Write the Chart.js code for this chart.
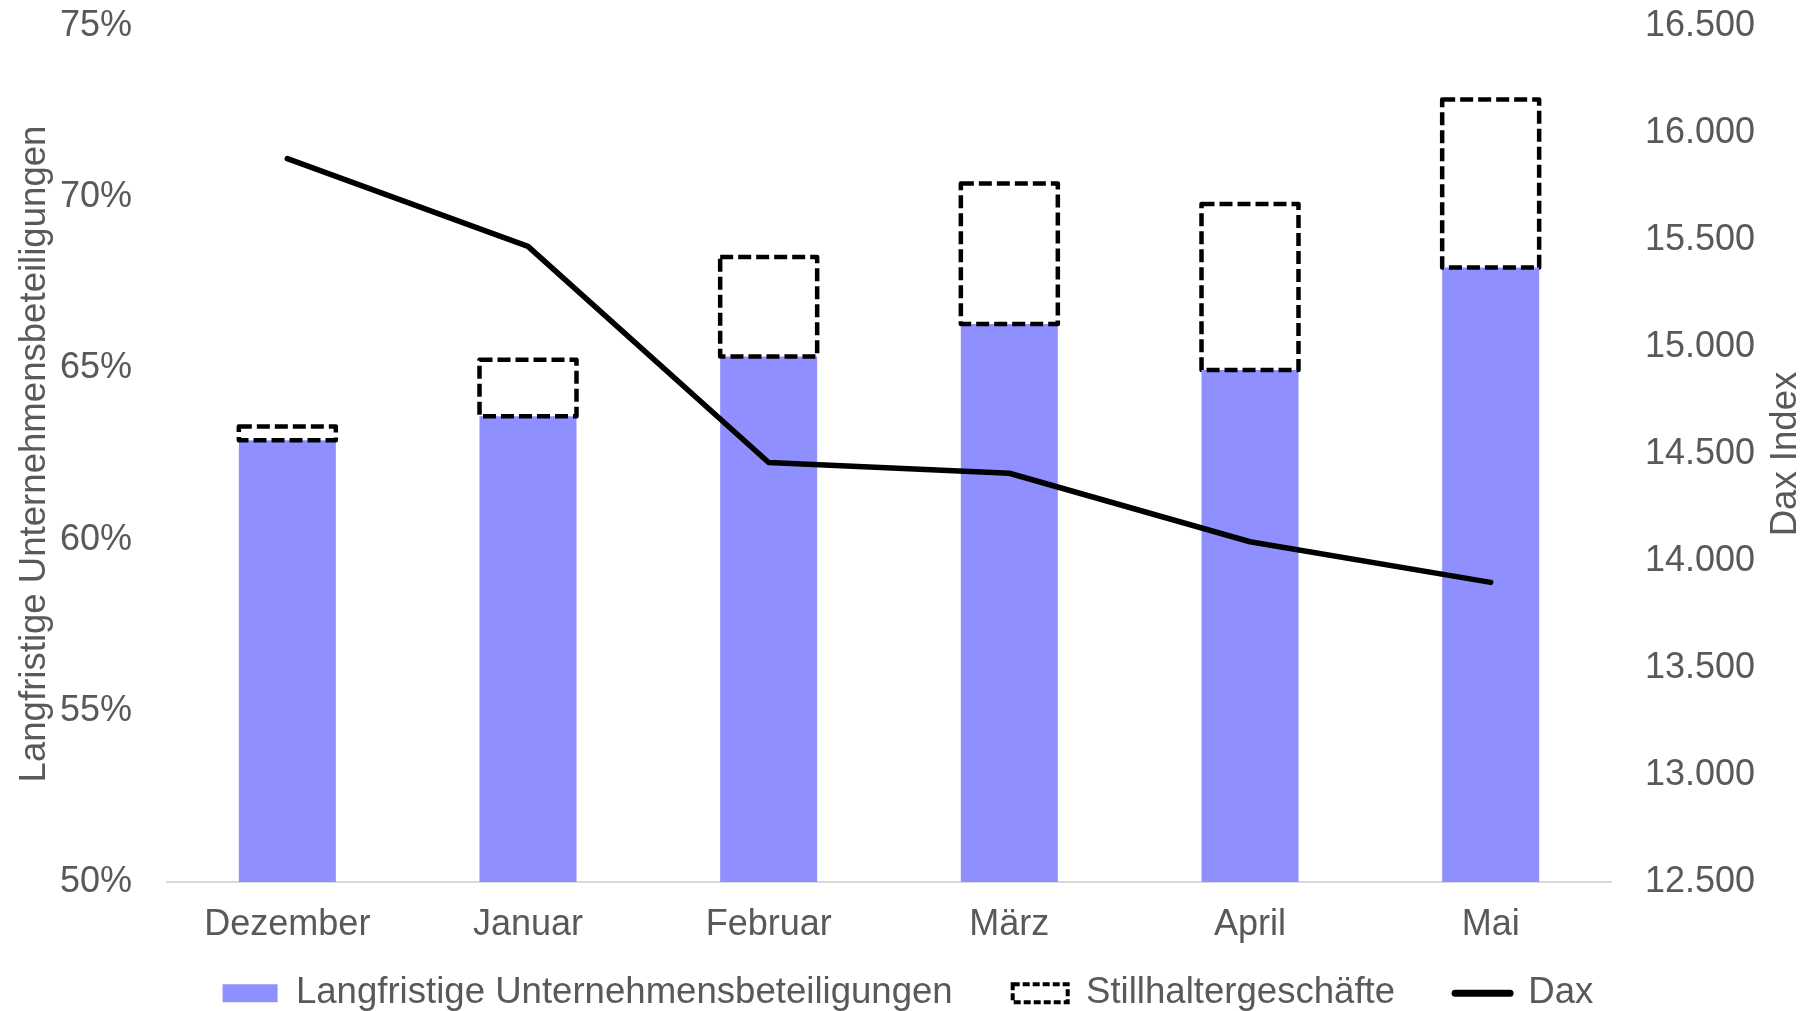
<!DOCTYPE html>
<html>
<head>
<meta charset="utf-8">
<script src="https://cdn.jsdelivr.net/npm/chart.js@4/dist/chart.umd.min.js"></script>
<style>
  html, body { margin: 0; padding: 0; background: #ffffff; }
  #wrap { width: 1816px; height: 1011px; position: relative; }
</style>
</head>
<body>
<div id="wrap"><canvas id="c"></canvas></div>
<script>
// ---- data ----
const months = ['Dezember', 'Januar', 'Februar', 'März', 'April', 'Mai'];
const langfristig = [62.9, 63.6, 65.35, 66.3, 64.95, 67.95];   // % (left axis)
const stillhalter = [0.4, 1.65, 2.9, 4.1, 4.85, 4.9];          // % stacked on top
const dax = [15880, 15470, 14460, 14410, 14090, 13900];       // right axis
const leftTicks = [50, 55, 60, 65, 70, 75];
const rightTicks = [12500, 13000, 13500, 14000, 14500, 15000, 15500, 16000, 16500];
const seriesNames = ['Langfristige Unternehmensbeteiligungen', 'Stillhaltergeschäfte', 'Dax'];
const leftTitle = 'Langfristige Unternehmensbeteiligungen';
const rightTitle = 'Dax Index';

const GREY = '#595959';
const BLUE = '#8f8fff';
const FONT = 'Liberation Sans, Arial, sans-serif';
const TICK_SIZE = 36;
const TEXT_SIZE = 36.6;

function fmtDE(v) {
  return String(v).replace(/\B(?=(\d{3})+(?!\d))/g, '.');
}

const dashedBoxes = {
  id: 'dashedBoxes',
  afterDatasetsDraw(chart) {
    const meta = chart.getDatasetMeta(1);
    const ctx = chart.ctx;
    ctx.save();
    ctx.strokeStyle = '#000000';
    ctx.lineWidth = 4.5;
    ctx.lineJoin = 'round';
    ctx.setLineDash([13, 5]);
    meta.data.forEach(bar => {
      const p = bar.getProps(['x', 'y', 'base', 'width'], true);
      ctx.strokeRect(p.x - p.width / 2, p.y, p.width, p.base - p.y);
    });
    ctx.restore();
  }
};

// right axis title, reading bottom-to-top like the original
const rightAxisTitle = {
  id: 'rightAxisTitle',
  afterDraw(chart) {
    const s = chart.scales.y1;
    const ctx = chart.ctx;
    const area = chart.chartArea;
    ctx.save();
    ctx.translate(s.right - 30, (area.top + area.bottom) / 2);
    ctx.rotate(-Math.PI / 2);
    ctx.fillStyle = GREY;
    ctx.font = TEXT_SIZE + 'px ' + FONT;
    ctx.textAlign = 'center';
    ctx.textBaseline = 'middle';
    ctx.fillText(rightTitle, 0, 0);
    ctx.restore();
  }
};

// move legend row up into its final place
const legendShift = {
  id: 'legendShift',
  afterLayout(chart) {
    const lg = chart.legend;
    if (!lg) return;
    lg.top -= 33;
    lg.bottom -= 33;
    if (lg.legendHitBoxes) lg.legendHitBoxes.forEach(h => { h.top -= 33; });
  }
};

function fixVertical(width) {
  return function (scale) {
    scale.width = width;
    scale.paddingTop = 26;
    scale.paddingBottom = 0;
  };
}

const ctx = document.getElementById('c').getContext('2d');
new Chart(ctx, {
  data: {
    labels: months,
    datasets: [
      {
        type: 'bar',
        label: seriesNames[0],
        data: langfristig,
        backgroundColor: BLUE,
        borderWidth: 0,
        yAxisID: 'y',
        stack: 's',
        order: 2,
        barPercentage: 0.403,
        categoryPercentage: 1
      },
      {
        type: 'bar',
        label: seriesNames[1],
        data: stillhalter,
        backgroundColor: 'rgba(0,0,0,0)',
        borderWidth: 0,
        yAxisID: 'y',
        stack: 's',
        order: 2,
        barPercentage: 0.403,
        categoryPercentage: 1
      },
      {
        type: 'line',
        label: seriesNames[2],
        data: dax,
        borderColor: '#000000',
        backgroundColor: '#000000',
        borderWidth: 5.5,
        borderCapStyle: 'round',
        borderJoinStyle: 'round',
        pointRadius: 0,
        pointHoverRadius: 0,
        tension: 0,
        yAxisID: 'y1',
        order: 0
      }
    ]
  },
  options: {
    responsive: true,
    maintainAspectRatio: false,
    animation: false,
    events: [],
    layout: { padding: { top: 0, left: 0, right: 0, bottom: -43.6 } },
    plugins: {
      tooltip: { enabled: false },
      legend: {
        position: 'bottom',
        labels: {
          color: GREY,
          font: { family: FONT, size: TEXT_SIZE },
          usePointStyle: true,
          pointStyleWidth: 55,
          boxHeight: 18,
          padding: 60,
          generateLabels: () => [
            { text: seriesNames[0], fillStyle: BLUE, strokeStyle: BLUE, lineWidth: 0, pointStyle: 'rect', datasetIndex: 0, fontColor: GREY },
            { text: seriesNames[1], fillStyle: '#ffffff', strokeStyle: '#000000', lineWidth: 4, lineDash: [7, 3], pointStyle: 'rect', datasetIndex: 1, fontColor: GREY },
            { text: seriesNames[2], fillStyle: '#000000', strokeStyle: '#000000', lineWidth: 7, lineCap: 'round', pointStyle: 'line', datasetIndex: 2, fontColor: GREY }
          ]
        }
      }
    },
    scales: {
      x: {
        stacked: true,
        offset: true,
        grid: { display: false, drawTicks: false },
        border: { display: true, color: '#d9d9d9', width: 2 },
        ticks: {
          color: GREY,
          font: { family: FONT, size: TICK_SIZE },
          padding: 21.5,
          maxRotation: 0,
          autoSkip: false
        },
        afterFit(scale) { scale.height = 66; }
      },
      y: {
        position: 'left',
        stacked: true,
        min: 50,
        max: 75,
        afterBuildTicks(scale) { scale.ticks = leftTicks.map(v => ({ value: v })); },
        grid: { display: false, drawTicks: false },
        border: { display: false },
        ticks: {
          color: GREY,
          font: { family: FONT, size: TICK_SIZE },
          padding: 35,
          callback: v => v + '%'
        },
        title: {
          display: true,
          text: leftTitle,
          color: GREY,
          font: { family: FONT, size: TEXT_SIZE },
          padding: { top: 13, bottom: 0 }
        },
        afterFit: fixVertical(167)
      },
      y1: {
        position: 'right',
        stacked: false,
        min: 12500,
        max: 16500,
        afterBuildTicks(scale) { scale.ticks = rightTicks.map(v => ({ value: v })); },
        grid: { display: false, drawTicks: false },
        border: { display: false },
        ticks: {
          color: GREY,
          font: { family: FONT, size: TICK_SIZE },
          padding: 34,
          callback: v => fmtDE(v)
        },
        title: { display: false },
        afterFit: fixVertical(205)
      }
    }
  },
  plugins: [dashedBoxes, rightAxisTitle, legendShift]
});
</script>
</body>
</html>
